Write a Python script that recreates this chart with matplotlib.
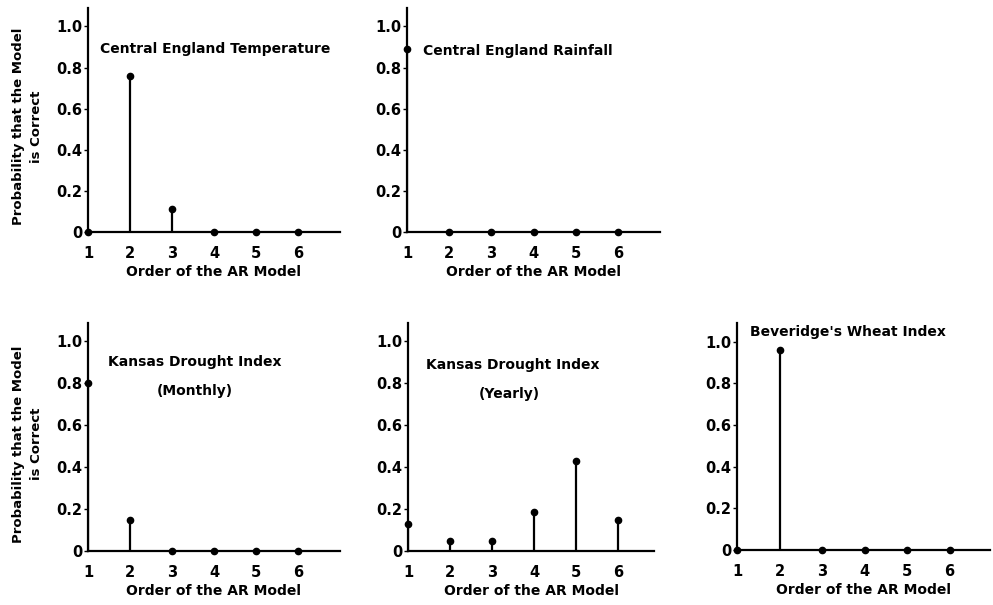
import numpy as np
import matplotlib
matplotlib.use('Agg')
import matplotlib.pyplot as plt

# AR model order and the probability that each order is correct
orders = [1, 2, 3, 4, 5, 6]
temperature = [0.0, 0.76, 0.11, 0.0, 0.0, 0.0]
rainfall = [0.89, 0.0, 0.0, 0.0, 0.0, 0.0]
kansas_monthly = [0.80, 0.15, 0.0, 0.0, 0.0, 0.0]
kansas_yearly = [0.13, 0.05, 0.05, 0.185, 0.43, 0.15]
wheat = [0.0, 0.96, 0.0, 0.0, 0.0, 0.0]

ytick_vals = [0, 0.2, 0.4, 0.6, 0.8, 1.0]
ytick_labels = ['0', '0.2', '0.4', '0.6', '0.8', '1.0']
xlabel = 'Order of the AR Model'
ylabel = 'Probability that the Model\nis Correct'

W, H = 993, 605
plt.rcParams['font.family'] = 'DejaVu Sans'
plt.rcParams['font.weight'] = 'bold'
fig = plt.figure(figsize=(W / 100, H / 100), dpi=100)


def make_axes(left, right, zero_y, top_y):
    return fig.add_axes([left / W, (H - zero_y) / H, (right - left) / W, (zero_y - top_y) / H])


def stem_panel(ax, vals, xmax, ymax, left_label):
    ax.vlines(orders, 0, vals, color='black', lw=1.6)
    ax.plot(orders, vals, 'o', color='black', ms=4.5, clip_on=False, zorder=3)
    ax.set_xlim(1, xmax)
    ax.set_ylim(0, ymax)
    for s in ['top', 'right']:
        ax.spines[s].set_visible(False)
    for s in ['left', 'bottom']:
        ax.spines[s].set_linewidth(1.6)
    ax.set_xticks(orders)
    ax.set_xticklabels([str(o) for o in orders], fontsize=10.5, fontweight='bold')
    ax.set_yticks(ytick_vals)
    ax.set_yticklabels(ytick_labels, fontsize=10.5, fontweight='bold')
    ax.tick_params(axis='x', length=0, pad=10)
    ax.tick_params(axis='y', length=3, width=1, pad=1)
    h_px = ax.get_position().height * H
    w_px = ax.get_position().width * W
    ax.set_xlabel(xlabel, fontsize=10, fontweight='bold')
    ax.xaxis.set_label_coords(0.5, -33 / h_px)
    if left_label:
        ax.set_ylabel(ylabel, fontsize=9.5, fontweight='bold', linespacing=1.5)
        ax.yaxis.set_label_coords(-45 / w_px, 0.47)


ax1 = make_axes(88, 340, 232, 8)
stem_panel(ax1, temperature, 7.0, 1.09, True)
ax1.text(1.28, 0.89, 'Central England Temperature', fontsize=10, fontweight='bold', va='center')

ax2 = make_axes(407, 660, 232, 8)
stem_panel(ax2, rainfall, 7.0, 1.09, False)
ax2.text(1.38, 0.88, 'Central England Rainfall', fontsize=10, fontweight='bold', va='center')

ax3 = make_axes(88, 340, 551, 323)
stem_panel(ax3, kansas_monthly, 7.0, 1.086, True)
ax3.text(3.55, 0.90, 'Kansas Drought Index', fontsize=10, fontweight='bold', va='center', ha='center')
ax3.text(3.55, 0.76, '(Monthly)', fontsize=10, fontweight='bold', va='center', ha='center')

ax4 = make_axes(408, 654, 551, 323)
stem_panel(ax4, kansas_yearly, 6.85, 1.086, False)
ax4.text(3.5, 0.886, 'Kansas Drought Index', fontsize=10, fontweight='bold', va='center', ha='center')
ax4.text(3.4, 0.75, '(Yearly)', fontsize=10, fontweight='bold', va='center', ha='center')

ax5 = make_axes(737, 990, 550, 323)
stem_panel(ax5, wheat, 6.95, 1.09, False)
ax5.text(3.6, 1.045, "Beveridge's Wheat Index", fontsize=10, fontweight='bold', va='center', ha='center')

fig.savefig('out.png', dpi=100)
